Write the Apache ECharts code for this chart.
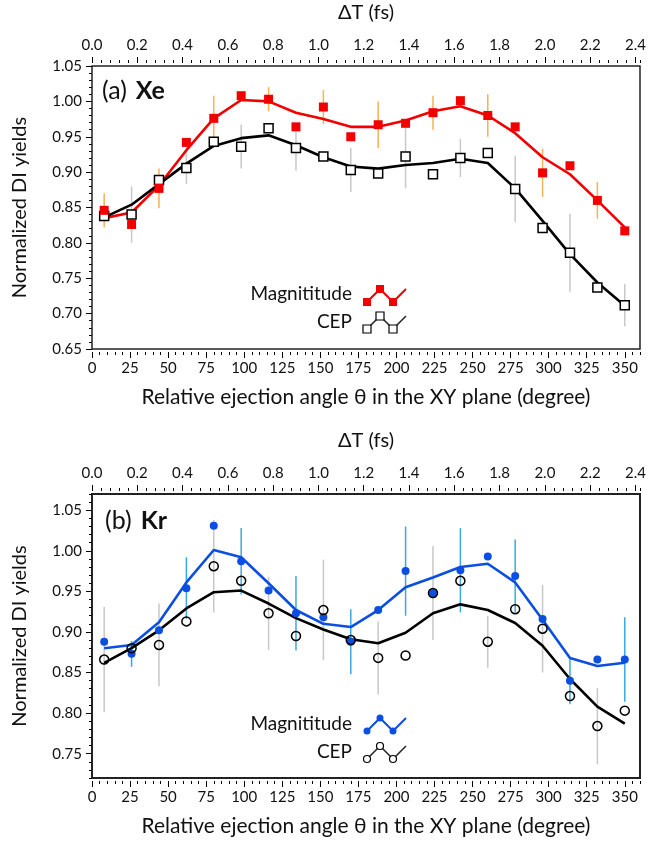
<!DOCTYPE html>
<html>
<head>
<meta charset="utf-8">
<script src="https://cdn.jsdelivr.net/npm/echarts@6/dist/echarts.min.js"></script>
<style>
  html, body { margin: 0; padding: 0; background: #fff; }
  #main { width: 652px; height: 844px; }
</style>
</head>
<body>
<div id="main"></div>
<script>
// relative ejection angle of each data point (degree)
var angles = [8, 26, 44, 62, 80, 98, 116, 134, 152, 170, 188, 206, 224, 242, 260, 278, 296, 314, 332, 350];

// (a) Xe
var xeMag    = [0.846, 0.826, 0.877, 0.942, 0.976, 1.008, 1.003, 0.964, 0.992, 0.950, 0.967, 0.969, 0.984, 1.001, 0.980, 0.964, 0.899, 0.909, 0.860, 0.817];
var xeMagFit = [0.835, 0.843, 0.881, 0.931, 0.976, 1.002, 1.000, 0.984, 0.975, 0.964, 0.964, 0.973, 0.986, 0.993, 0.980, 0.955, 0.921, 0.897, 0.860, 0.822];
var xeMagErr = [0.024, null, 0.028, null, 0.032, null, 0.017, null, 0.024, null, 0.033, null, 0.024, null, 0.030, null, 0.034, null, 0.026, null];
var xeCep    = [0.838, 0.840, 0.889, 0.906, 0.943, 0.936, 0.962, 0.934, 0.922, 0.903, 0.898, 0.922, 0.897, 0.920, 0.927, 0.876, 0.821, 0.786, 0.737, 0.712];
var xeCepFit = [0.836, 0.854, 0.883, 0.912, 0.937, 0.948, 0.952, 0.938, 0.921, 0.908, 0.905, 0.910, 0.913, 0.919, 0.913, 0.877, 0.831, 0.784, 0.744, 0.711];
var xeCepErr = [null, 0.040, null, 0.023, null, 0.031, null, 0.032, null, 0.031, null, 0.045, null, 0.027, null, 0.047, null, 0.055, null, 0.030];

// (b) Kr
var krMag    = [0.888, 0.873, 0.902, 0.954, 1.031, 0.987, 0.951, 0.923, 0.918, 0.888, 0.927, 0.975, 0.948, 0.976, 0.993, 0.969, 0.916, 0.840, 0.866, 0.866];
var krMagFit = [0.880, 0.884, 0.912, 0.961, 1.001, 0.992, 0.960, 0.927, 0.910, 0.906, 0.927, 0.955, 0.967, 0.980, 0.984, 0.961, 0.915, 0.868, 0.858, 0.862];
var krMagErr = [null, 0.016, null, 0.038, null, 0.041, null, 0.046, null, 0.040, null, 0.055, null, 0.052, null, 0.045, null, 0.029, null, 0.052];
var krCep    = [0.866, 0.880, 0.884, 0.913, 0.981, 0.963, 0.923, 0.895, 0.927, 0.890, 0.868, 0.871, 0.948, 0.963, 0.888, 0.928, 0.904, 0.821, 0.784, 0.803];
var krCepFit = [0.862, 0.880, 0.902, 0.929, 0.949, 0.951, 0.935, 0.917, 0.903, 0.891, 0.886, 0.899, 0.923, 0.934, 0.927, 0.911, 0.883, 0.842, 0.808, 0.787];
var krCepErr = [0.065, null, 0.051, null, 0.057, null, 0.045, null, 0.062, null, 0.045, null, 0.058, null, 0.032, null, 0.054, null, 0.047, null];

// tick labels
var angleTicks = [0, 25, 50, 75, 100, 125, 150, 175, 200, 225, 250, 275, 300, 325, 350];
var dtTicks = [0, 0.2, 0.4, 0.6, 0.8, 1.0, 1.2, 1.4, 1.6, 1.8, 2.0, 2.2, 2.4];
var xeYTicks = [0.65, 0.70, 0.75, 0.80, 0.85, 0.90, 0.95, 1.00, 1.05];
var krYTicks = [0.75, 0.80, 0.85, 0.90, 0.95, 1.00, 1.05];

var FONT = 'Lato';
var RED = '#f20000', ORANGE = '#f7b252', GREY = '#c8c8c8';
var BLUE = '#0b4fe0', LIGHTBLUE = '#3aa9e2';

function pairs(ys) {
    return angles.map(function (a, i) { return [a, ys[i]]; });
}
function errData(ys, errs) {
    var out = [];
    for (var i = 0; i < angles.length; i++) {
        if (errs[i] != null) out.push([angles[i], ys[i] - errs[i], ys[i] + errs[i]]);
    }
    return out;
}
function errSeries(g, ys, errs, color) {
    return {
        type: 'custom', xAxisIndex: g * 4, yAxisIndex: g * 2,
        data: errData(ys, errs),
        renderItem: function (params, api) {
            var p1 = api.coord([api.value(0), api.value(1)]);
            var p2 = api.coord([api.value(0), api.value(2)]);
            return { type: 'line', shape: { x1: p1[0], y1: p1[1], x2: p2[0], y2: p2[1] },
                     style: { stroke: color, lineWidth: 1.5 } };
        },
        z: 1
    };
}
function fitSeries(g, ys, color) {
    return { type: 'line', xAxisIndex: g * 4, yAxisIndex: g * 2, data: pairs(ys),
             showSymbol: false, lineStyle: { color: color, width: 2.6 }, z: 2 };
}
function dotSeries(g, ys, symbol, size, fill, stroke, z) {
    return { type: 'scatter', xAxisIndex: g * 4, yAxisIndex: g * 2, data: pairs(ys),
             symbol: symbol, symbolSize: size,
             itemStyle: { color: fill, borderColor: stroke, borderWidth: stroke ? 1.5 : 0, opacity: 1 }, z: z };
}

var tickStyle = { color: '#000', width: 1 };
var labelStyle = { fontFamily: FONT, fontSize: 15, color: '#111' };
var titleStyle = { fontFamily: FONT, fontSize: 21, color: '#111' };

function gridAxes(g, yMin, yMax, yTicks) {
    var xs = [
        { gridIndex: g, type: 'value', position: 'bottom', offset: 3, min: 0, max: 360,
          axisLine: { show: false, onZero: false }, splitLine: { show: false },
          axisTick: { customValues: angleTicks, length: 6, lineStyle: tickStyle },
          axisLabel: Object.assign({ customValues: angleTicks, margin: 9 }, labelStyle),
          name: 'Relative ejection angle \u03b8 in the XY plane (degree)', nameLocation: 'middle', nameGap: 35,
          nameTextStyle: titleStyle },
        { gridIndex: g, type: 'value', position: 'bottom', offset: 3, min: 0, max: 360, interval: 5,
          axisLine: { show: false, onZero: false }, splitLine: { show: false },
          axisTick: { length: 3, lineStyle: tickStyle }, axisLabel: { show: false } },
        { gridIndex: g, type: 'value', position: 'top', offset: 3, min: 0, max: 2.42,
          axisLine: { show: false, onZero: false }, splitLine: { show: false },
          axisTick: { customValues: dtTicks, length: 6, lineStyle: tickStyle },
          axisLabel: Object.assign({ customValues: dtTicks, margin: 10,
              formatter: function (v) { return v.toFixed(1); } }, labelStyle),
          name: '\u0394T (fs)', nameLocation: 'middle', nameGap: 40,
          nameTextStyle: { fontFamily: FONT, fontSize: 20, color: '#111' } },
        { gridIndex: g, type: 'value', position: 'top', offset: 3, min: 0, max: 2.42, interval: 0.04,
          axisLine: { show: false, onZero: false }, splitLine: { show: false },
          axisTick: { length: 3, lineStyle: tickStyle }, axisLabel: { show: false } }
    ];
    var ys = [
        { gridIndex: g, type: 'value', position: 'left', min: yMin, max: yMax,
          axisLine: { show: false, onZero: false }, splitLine: { show: false },
          axisTick: { customValues: yTicks, length: 6, lineStyle: tickStyle },
          axisLabel: Object.assign({ customValues: yTicks, margin: 10,
              formatter: function (v) { return v.toFixed(2); } }, labelStyle),
          name: 'Normalized DI yields', nameLocation: 'middle', nameGap: 62,
          nameTextStyle: { fontFamily: FONT, fontSize: 20, color: '#111' } },
        { gridIndex: g, type: 'value', position: 'left', min: yMin, max: yMax, interval: 0.01,
          axisLine: { show: false, onZero: false }, splitLine: { show: false },
          axisTick: { length: 3, lineStyle: tickStyle }, axisLabel: { show: false } }
    ];
    return { x: xs, y: ys };
}

var a0 = gridAxes(0, 0.65, 1.05, xeYTicks);
var a1 = gridAxes(1, 0.72, 1.07, krYTicks);

// legend samples drawn as a small zigzag next to the text
function legendGraphics(y0, color, shape, filled) {
    var items = [];
    var px = [367, 380, 393, 406];
    var py = [y0, y0 - 13, y0, y0 - 13];
    items.push({ type: 'polyline', shape: { points: px.map(function (x, i) { return [x, py[i]]; }) },
                 style: { stroke: color, lineWidth: filled ? 2 : 1.5, fill: null }, z: 10 });
    for (var i = 0; i < 3; i++) {
        if (shape === 'rect') {
            items.push({ type: 'rect', shape: { x: px[i] - 4, y: py[i] - 4, width: 8, height: 8 },
                         style: { fill: filled ? color : '#fff', stroke: filled ? null : '#000', lineWidth: 1.2 }, z: 11 });
        } else {
            items.push({ type: 'circle', shape: { cx: px[i], cy: py[i], r: 3.5 },
                         style: { fill: filled ? color : '#fff', stroke: filled ? null : '#000', lineWidth: 1.2 }, z: 11 });
        }
    }
    return items;
}
function label(text, right, y) {
    return { type: 'text', right: 652 - right, top: y - 11,
             style: { text: text, font: '19px ' + FONT, fill: '#111' }, z: 10 };
}
function panelTag(tag, el, x, y) {
    return { type: 'text', left: x, top: y - 14,
             style: { text: '{n|' + tag + '}{b|' + el + '}',
                      rich: { n: { fontFamily: FONT, fontSize: 25, fill: '#111', padding: [0, 9, 0, 0] },
                              b: { fontFamily: FONT, fontSize: 25, fontWeight: 'bold', fill: '#111' } } }, z: 10 };
}

var graphics = [
    panelTag('(a)', 'Xe', 102, 92),
    panelTag('(b)', 'Kr', 105, 522),
    label('Magnititude', 352, 295),
    label('CEP', 352, 323),
    label('Magnititude', 352, 725),
    label('CEP', 352, 753)
].concat(legendGraphics(302, RED, 'rect', true))
 .concat(legendGraphics(329, '#222', 'rect', false))
 .concat(legendGraphics(731, BLUE, 'circle', true))
 .concat(legendGraphics(759, '#222', 'circle', false));

var option = {
    animation: false,
    textStyle: { fontFamily: FONT },
    grid: [
        { left: 92, top: 66, width: 548, height: 283, show: true, borderColor: '#222', borderWidth: 1.5, backgroundColor: 'transparent' },
        { left: 92, top: 494, width: 548, height: 284, show: true, borderColor: '#222', borderWidth: 2, backgroundColor: 'transparent' }
    ],
    xAxis: a0.x.concat(a1.x),
    yAxis: a0.y.concat(a1.y),
    graphic: graphics,
    series: [
        errSeries(0, xeMag, xeMagErr, ORANGE),
        errSeries(0, xeCep, xeCepErr, GREY),
        fitSeries(0, xeMagFit, RED),
        fitSeries(0, xeCepFit, '#000'),
        dotSeries(0, xeCep, 'rect', 9, '#fff', '#000', 3),
        dotSeries(0, xeMag, 'rect', 9, RED, null, 4),

        errSeries(1, krCep, krCepErr, GREY),
        errSeries(1, krMag, krMagErr, LIGHTBLUE),
        fitSeries(1, krMagFit, BLUE),
        fitSeries(1, krCepFit, '#000'),
        dotSeries(1, krMag, 'circle', 8, BLUE, null, 3),
        dotSeries(1, krCep, 'circle', 9, 'rgba(0,0,0,0)', '#000', 4)
    ]
};

var chart = echarts.init(document.getElementById('main'));
chart.setOption(option);
</script>
</body>
</html>
